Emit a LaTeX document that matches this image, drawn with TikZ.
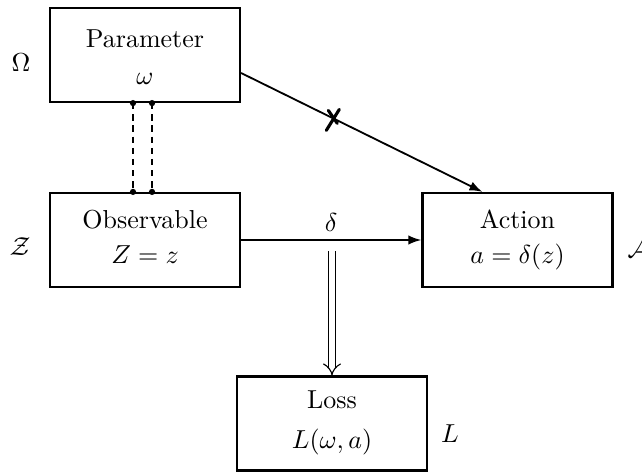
\documentclass[tikz,border=0pt]{standalone}
\usetikzlibrary{arrows.meta}
\begin{document}
\begin{tikzpicture}[x=0.385pt,y=-0.385pt,
  box/.style={draw,line width=0.85pt,minimum width=73.15pt,minimum height=36.19pt,inner sep=0pt},
  txt/.style={anchor=base,inner sep=0pt},
  arr/.style={line width=0.7pt,-{Latex[length=5pt,width=3.6pt]}},
  dbl/.style={double,double distance=2pt,line width=0.45pt,-{Implies}},
  dashline/.style={line width=1pt,dash pattern=on 2.4pt off 1.9pt},
  crossline/.style={line width=1.2pt,line cap=round}]
\useasboundingbox (0,0) rectangle (642,473);
% boxes
\node[box] (param) at (145,55) {};
\node[box] (obs) at (145,240) {};
\node[box] (act) at (517.5,240) {};
\node[box] (loss) at (332,423.5) {};
% texts
\node[txt] (tparam) at (145,48) {Parameter};
\node[txt] (tomega) at (145,85) {$\omega$};
\node[txt] (tobs) at (145,228) {Observable};
\node[txt] (tz) at (145,263) {$Z=z$};
\node[txt] (tact) at (517.5,228) {Action};
\node[txt] (ta) at (517.5,263) {$a=\delta(z)$};
\node[txt] (tloss) at (332,408) {Loss};
\node[txt] (tl) at (332,448) {$L(\omega,a)$};
% set labels
\node[txt] (lOmega) at (21,72) {$\Omega$};
\node[txt] (lZ) at (20,255) {$\mathcal{Z}$};
\node[anchor=base west,inner sep=0pt] (lA) at (627,257) {$\mathcal{A}$};
\node[txt] (lL) at (450,442) {$L$};
% dashed double link
\draw[dashline] ([xshift=-4.62pt]param.south) -- ([xshift=-4.62pt]obs.north);
\draw[dashline] ([xshift=2.7pt]param.south) -- ([xshift=2.7pt]obs.north);
\foreach \p in {param.south,obs.north}{
  \fill ([xshift=-4.62pt]\p) circle (1.2pt);
  \fill ([xshift=2.7pt]\p) circle (1.2pt);
}
% delta arrow
\draw[arr] (obs.east) -- node[above=3pt,inner sep=0pt] (ldelta) {$\delta$} (act.west);
% crossed arrow
\draw[arr] ([yshift=-6.93pt]param.east) -- node[pos=0.382,coordinate] (xm) {} ([xshift=-13.5pt]act.north);
\draw[crossline] (xm) ++(-7,12) -- ++(13,-21);
\draw[crossline] (xm) ++(-5,-8) -- ++(9,13);
% double arrow to loss
\coordinate (dtop) at (332,251);
\draw[dbl] (dtop) -- (loss.north);
\end{tikzpicture}
\end{document}
